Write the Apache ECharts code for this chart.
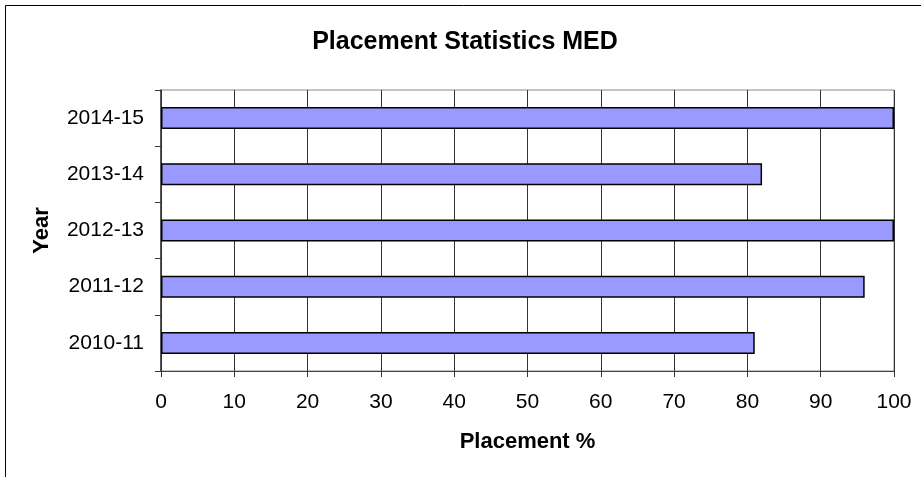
<!DOCTYPE html>
<html>
<head>
<meta charset="utf-8">
<script src="https://cdn.jsdelivr.net/npm/echarts@6/dist/echarts.min.js"></script>
<style>
  html, body { margin: 0; padding: 0; background: #fff; }
  #chart { width: 921px; height: 477px; }
</style>
</head>
<body>
<div id="chart"></div>
<script>
// data
const years = ['2010-11', '2011-12', '2012-13', '2013-14', '2014-15'];
const placement = [81, 96, 100, 82, 100];
const xTicks = [0, 10, 20, 30, 40, 50, 60, 70, 80, 90, 100];

const chart = echarts.init(document.getElementById('chart'));

const font = 'Liberation Sans, Arial';

chart.setOption({
  backgroundColor: '#fff',
  animation: false,
  title: {
    text: 'Placement Statistics MED',
    left: 460,
    top: 25,
    textAlign: 'center',
    textStyle: { fontFamily: font, fontSize: 25, fontWeight: 'bold', color: '#000' }
  },
  // outer frame, only left/top edges are visible in the picture
  graphic: [{
    type: 'rect',
    shape: { x: 5.5, y: 5.5, width: 1000, height: 1000 },
    style: { fill: 'none', stroke: '#000', lineWidth: 1 },
    silent: true
  }],
  grid: {
    left: 161, right: 27, top: 90, bottom: 106,
    show: true, borderColor: '#888', borderWidth: 1
  },
  xAxis: {
    type: 'value',
    min: xTicks[0],
    max: xTicks[xTicks.length - 1],
    interval: 10,
    name: 'Placement %',
    nameLocation: 'middle',
    nameGap: 60,
    nameTextStyle: { fontFamily: font, fontSize: 22, fontWeight: 'bold', color: '#000' },
    axisLine: { show: true, lineStyle: { color: '#444', width: 1 } },
    axisTick: { show: true, length: 6, lineStyle: { color: '#333' } },
    axisLabel: { fontFamily: font, fontSize: 21, color: '#000', margin: 21 },
    splitLine: { show: true, lineStyle: { color: '#333', width: 1 } }
  },
  yAxis: {
    type: 'category',
    data: years,
    name: 'Year',
    nameLocation: 'middle',
    nameGap: 108,
    nameRotate: 90,
    nameTextStyle: { fontFamily: font, fontSize: 22, fontWeight: 'bold', color: '#000' },
    axisLine: { show: true, lineStyle: { color: '#333', width: 1.5 } },
    axisTick: { show: true, length: 6, lineStyle: { color: '#333' } },
    axisLabel: { fontFamily: font, fontSize: 21, color: '#000', margin: 17 },
    splitLine: { show: false }
  },
  series: [{
    type: 'bar',
    data: placement,
    barWidth: 22,
    itemStyle: { color: '#9999ff', borderColor: '#000', borderWidth: 1.5 }
  }]
});
</script>
</body>
</html>
